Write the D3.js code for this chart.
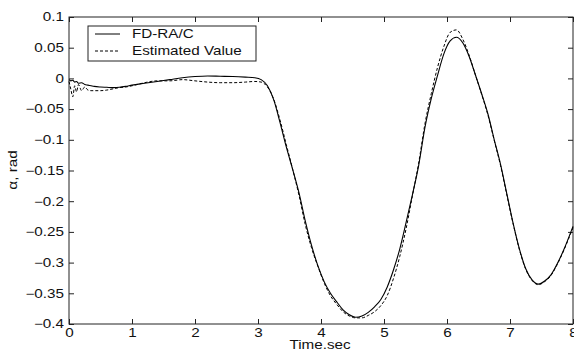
<!DOCTYPE html>
<html><head><meta charset="utf-8">
<script src="https://cdn.jsdelivr.net/npm/d3@7/dist/d3.min.js"></script>
<style>html,body{margin:0;padding:0;background:#fff;}svg{display:block;}</style>
</head><body>
<svg id="chart" width="574" height="353"></svg>
<script>
const time = [0,0.03,0.06,0.09,0.12,0.15,0.2,0.25,0.3,0.35,0.4,0.5,0.6,0.7,0.8,0.9,1.0,1.2,1.4,1.6,1.8,2.0,2.2,2.4,2.6,2.8,2.95,3.05,3.15,3.25,3.35,3.45,3.55,3.65,3.75,3.85,3.95,4.05,4.15,4.25,4.35,4.45,4.55,4.65,4.75,4.85,4.95,5.05,5.15,5.25,5.35,5.45,5.55,5.65,5.75,5.85,5.95,6.05,6.15,6.25,6.35,6.45,6.55,6.65,6.75,6.85,6.95,7.05,7.15,7.25,7.35,7.45,7.55,7.65,7.75,7.85,8.0];
const fdrac = [-0.002,-0.004,-0.003,-0.006,-0.005,-0.008,-0.007,-0.010,-0.011,-0.012,-0.013,-0.014,-0.0145,-0.015,-0.0145,-0.013,-0.011,-0.008,-0.005,-0.002,0.001,0.003,0.004,0.0035,0.003,0.002,0.001,-0.002,-0.012,-0.035,-0.072,-0.112,-0.148,-0.186,-0.232,-0.272,-0.305,-0.331,-0.350,-0.364,-0.377,-0.385,-0.389,-0.387,-0.381,-0.372,-0.360,-0.340,-0.312,-0.278,-0.235,-0.190,-0.142,-0.080,-0.033,0.005,0.040,0.061,0.067,0.058,0.036,0.006,-0.025,-0.058,-0.100,-0.140,-0.188,-0.236,-0.278,-0.310,-0.328,-0.335,-0.330,-0.320,-0.302,-0.280,-0.241];
const estimated = [-0.005,-0.018,-0.030,-0.012,-0.022,-0.010,-0.020,-0.014,-0.019,-0.020,-0.020,-0.020,-0.019,-0.017,-0.015,-0.014,-0.012,-0.007,-0.004,-0.004,-0.002,-0.004,-0.006,-0.007,-0.007,-0.006,-0.005,-0.006,-0.014,-0.034,-0.068,-0.108,-0.148,-0.190,-0.238,-0.276,-0.306,-0.333,-0.354,-0.368,-0.380,-0.387,-0.390,-0.390,-0.386,-0.380,-0.370,-0.354,-0.326,-0.290,-0.245,-0.192,-0.138,-0.074,-0.025,0.018,0.052,0.075,0.079,0.064,0.038,0.006,-0.026,-0.060,-0.101,-0.142,-0.190,-0.237,-0.279,-0.311,-0.329,-0.336,-0.331,-0.321,-0.303,-0.281,-0.243];
const xTicks = [0,1,2,3,4,5,6,7,8];
const yTicks = [0.1,0.05,0,-0.05,-0.1,-0.15,-0.2,-0.25,-0.3,-0.35,-0.4];
const seriesNames = ["FD-RA/C","Estimated Value"];
const xLabel = "Time.sec";
const yLabel = "α, rad";

const L = 69, R = 573, T = 17, B = 324;
const svg = d3.select("#chart");
const x = d3.scaleLinear().domain([0,8]).range([L,R]);
const y = d3.scaleLinear().domain([-0.4,0.1]).range([B,T]);
const axisColor = "#222";
const sx = 1.27;
const fontFam = "'Liberation Sans', Arial, sans-serif";

function styleAxis(g){
  g.select(".domain").remove();
  g.selectAll("line").attr("stroke",axisColor);
  g.selectAll("text").attr("font-family",fontFam).attr("font-size","12px").attr("fill","#111");
}
// bottom
const gb = svg.append("g").attr("transform",`translate(0,${B})`)
  .call(d3.axisBottom(x).tickValues(xTicks).tickFormat(d3.format("d")).tickSizeInner(-5).tickSizeOuter(0).tickPadding(4));
styleAxis(gb);
gb.selectAll(".tick text").attr("transform",`scale(${sx},1)`).attr("x",0);
// top
const gt = svg.append("g").attr("transform",`translate(0,${T})`)
  .call(d3.axisTop(x).tickValues(xTicks).tickFormat("").tickSizeInner(-5).tickSizeOuter(0));
styleAxis(gt);
// left
const gl = svg.append("g").attr("transform",`translate(${L},0)`)
  .call(d3.axisLeft(y).tickValues(yTicks).tickFormat(d=>d3.format("")(+d.toFixed(2))).tickSizeInner(-5).tickSizeOuter(0).tickPadding(0));
styleAxis(gl);
gl.selectAll(".tick text").attr("x",0).attr("transform",`translate(-5,0) scale(${sx},1)`);
// right
const gr = svg.append("g").attr("transform",`translate(${R},0)`)
  .call(d3.axisRight(y).tickValues(yTicks).tickFormat("").tickSizeInner(-5).tickSizeOuter(0));
styleAxis(gr);

// frame
svg.append("rect").attr("x",L).attr("y",T).attr("width",R-L).attr("height",B-T)
  .attr("fill","none").attr("stroke",axisColor).attr("stroke-width",1);

const line = d3.line().x(d=>x(d[0])).y(d=>y(d[1])).curve(d3.curveMonotoneX);
const d1 = time.map((t,i)=>[t,fdrac[i]]);
const d2 = time.map((t,i)=>[t,estimated[i]]);
svg.append("path").datum(d1).attr("d",line).attr("fill","none").attr("stroke","#000").attr("stroke-width",1.1);
svg.append("path").datum(d2).attr("d",line).attr("fill","none").attr("stroke","#000").attr("stroke-width",1).attr("stroke-dasharray","3,2");

// legend
const lg = svg.append("g");
lg.append("rect").attr("x",88).attr("y",26).attr("width",168).attr("height",35).attr("fill","#fff").attr("stroke",axisColor);
[0,1].forEach(i=>{
  const yy = 34 + i*17;
  lg.append("line").attr("x1",95).attr("x2",120).attr("y1",yy).attr("y2",yy).attr("stroke","#000")
    .attr("stroke-dasharray", i===1 ? "3,2" : null);
  lg.append("text").attr("transform",`translate(132,${yy+4}) scale(${sx},1)`)
    .attr("font-family",fontFam).attr("font-size","12px").attr("fill","#111").text(seriesNames[i]);
});

// axis labels
svg.append("text").attr("transform",`translate(320,349) scale(${sx},1)`).attr("text-anchor","middle")
  .attr("font-family",fontFam).attr("font-size","12px").attr("fill","#111").text(xLabel);
svg.append("text").attr("transform",`translate(17,170) rotate(-90) scale(${sx},1)`).attr("text-anchor","middle")
  .attr("font-family",fontFam).attr("font-size","12px").attr("fill","#111").text(yLabel);
</script>
</body></html>
